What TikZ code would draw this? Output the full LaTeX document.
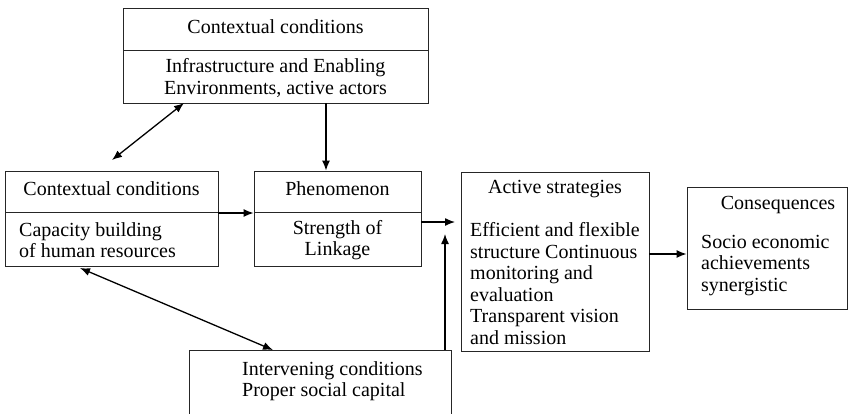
\documentclass[tikz,border=0pt]{standalone}
\usepackage{fontspec}
\setmainfont{Liberation Serif}
\usetikzlibrary{arrows.meta}
\begin{document}
\begin{tikzpicture}[x=1pt,y=-1pt,
 box/.style={draw=black!85, line width=0.9pt, rectangle, inner sep=0pt},
 divider/.style={draw=black!85, line width=0.9pt},
 txt/.style={font=\fontsize{20}{21.5}\selectfont, inner sep=0pt, align=center},
 ltxt/.style={font=\fontsize{20}{21.5}\selectfont, inner sep=0pt, align=left, anchor=west},
 arr/.style={line width=1.3pt, -{Latex[length=10pt,width=8pt]}},
 darr/.style={line width=1.3pt, {Latex[length=10pt,width=8pt]}-{Latex[length=10pt,width=8pt]}}]
\path[use as bounding box] (0,0) rectangle (848,413);
\clip (0,0) rectangle (848,413);
% top box
\node[box, minimum width=305pt, minimum height=95pt] (top) at (275.5,55.5) {};
\draw[divider] (123,50) -- (428,50);
\node[txt] (toptitle) at (275.5,27) {Contextual conditions};
\node[txt] (topbody) at (275.5,78) {Infrastructure and Enabling\\Environments, active actors};
% left box
\node[box, minimum width=213pt, minimum height=95pt] (left) at (111.5,218.5) {};
\draw[divider] (5,212) -- (218,212);
\node[txt] (lefttitle) at (111.5,189) {Contextual conditions};
\node[ltxt] (leftbody) at (19,240) {Capacity building\\of human resources};
% phenomenon
\node[box, minimum width=167pt, minimum height=95pt] (phen) at (337.5,218.5) {};
\draw[divider] (254,212) -- (421,212);
\node[txt] (phentitle) at (337.5,189) {Phenomenon};
\node[txt] (phenbody) at (337.5,240) {Strength of\\Linkage};
% active strategies
\node[box, minimum width=188pt, minimum height=179pt] (act) at (555,261.5) {};
\node[txt] (acttitle) at (555,189) {Active strategies};
\node[ltxt] (actbody) at (470,283.5) {Efficient and flexible\\structure Continuous\\monitoring and\\evaluation\\Transparent vision\\and mission};
% consequences
\node[box, minimum width=160pt, minimum height=122pt] (cons) at (767,248) {};
\node[txt] (constitle) at (778,205) {Consequences};
\node[ltxt] (consbody) at (701,265.5) {Socio economic\\achievements\\synergistic};
% intervening
\node[box, minimum width=262pt, minimum height=100pt] (inter) at (320,400) {};
\node[ltxt] (interbody) at (242,381) {Intervening conditions\\Proper social capital};
% connector points
\coordinate (a1) at (112,160);
\coordinate (a2) at (184,103);
\coordinate (b1) at (80,268);
\coordinate (b2) at (273,350);
\coordinate (j) at (455,222);
\coordinate (k) at (445,234);
% connectors
\draw[darr] (a1) -- (a2);
\draw[arr] (top.south -| 326,0) -- (phen.north -| 326,0);
\draw[arr] (left.east |- 0,213) -- (phen.west |- 0,213);
\draw[arr] (phen.east |- j) -- (j);
\draw[arr] (inter.north -| k) -- (k);
\draw[darr] (b1) -- (b2);
\draw[arr] (act.east |- 0,254) -- (cons.west |- 0,254);
\end{tikzpicture}
\end{document}
